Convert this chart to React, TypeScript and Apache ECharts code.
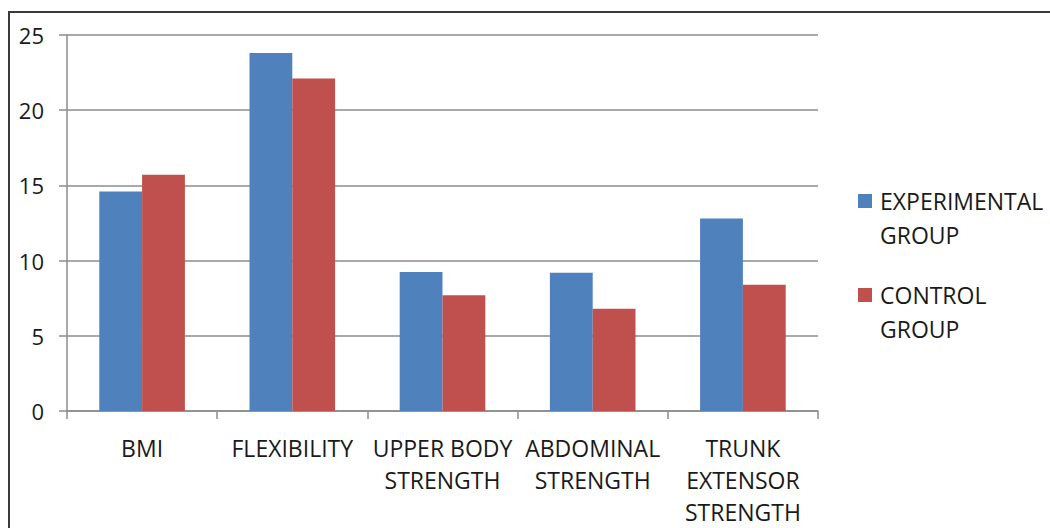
import React, { useEffect, useRef } from "react";
import * as echarts from "echarts";

const categories = [
  "BMI",
  "FLEXIBILITY",
  "UPPER BODY\nSTRENGTH",
  "ABDOMINAL\nSTRENGTH",
  "TRUNK\nEXTENSOR\nSTRENGTH",
];
const seriesNames = ["EXPERIMENTAL\nGROUP", "CONTROL\nGROUP"];
const experimental = [14.6, 23.8, 9.25, 9.2, 12.8];
const control = [15.7, 22.1, 7.7, 6.8, 8.4];
const colors = ["#4F81BD", "#C0504D"];
const yTicks = { min: 0, max: 25, interval: 5 };

export default function App() {
  const ref = useRef<HTMLDivElement>(null);
  useEffect(() => {
    if (!ref.current) return;
    const chart = echarts.init(ref.current, null, { renderer: "svg" });
    const font = "'Open Sans', sans-serif";
    const legendGraphics: any[] = [];
    seriesNames.forEach((n, i) => {
      const top = 194 + i * 94;
      legendGraphics.push({
        type: "rect",
        shape: { x: 858, y: top, width: 14, height: 14 },
        style: { fill: colors[i] },
      });
      legendGraphics.push({
        type: "text",
        x: 880,
        y: top - 10,
        style: {
          text: n,
          fontSize: 23,
          lineHeight: 34,
          fontFamily: font,
          fill: "#1a1a1a",
        },
      });
    });
    chart.setOption({
      animation: false,
      backgroundColor: "#fff",
      grid: { left: 67, right: 232, top: 35, bottom: 116, containLabel: false },
      xAxis: {
        type: "category",
        data: categories,
        axisLine: { show: true, lineStyle: { color: "#8c8c8c", width: 1.5 } },
        axisTick: { show: true, length: 8, alignWithLabel: false, lineStyle: { color: "#8c8c8c", width: 1.5 } },
        axisLabel: {
          interval: 0,
          fontSize: 23,
          lineHeight: 32,
          color: "#1a1a1a",
          fontFamily: font,
          margin: 21,
        },
        splitLine: { show: false },
      },
      yAxis: {
        type: "value",
        min: yTicks.min,
        max: yTicks.max,
        interval: yTicks.interval,
        axisLine: { show: true, lineStyle: { color: "#8c8c8c", width: 1.5 } },
        axisTick: { show: true, length: 8, lineStyle: { color: "#8c8c8c", width: 1.5 } },
        axisLabel: { fontSize: 22, color: "#1a1a1a", fontFamily: font, margin: 23 },
        splitLine: { show: true, lineStyle: { color: "#8c8c8c", width: 1.5 } },
      },
      series: [
        {
          name: seriesNames[0],
          type: "bar",
          data: experimental,
          itemStyle: { color: colors[0] },
          barGap: "0%",
          barCategoryGap: "43%",
        },
        {
          name: seriesNames[1],
          type: "bar",
          data: control,
          itemStyle: { color: colors[1] },
          barGap: "0%",
          barCategoryGap: "43%",
        },
      ],
      graphic: [
        {
          type: "rect",
          shape: { x: 9, y: 12, width: 1100, height: 600 },
          style: { fill: "none", stroke: "#3a3a3a", lineWidth: 2 },
        },
        ...legendGraphics,
      ],
    });
    return () => chart.dispose();
  }, []);
  return (
    <div
      ref={ref}
      style={{ position: "fixed", left: 0, top: 0, width: 1050, height: 528 }}
    />
  );
}
